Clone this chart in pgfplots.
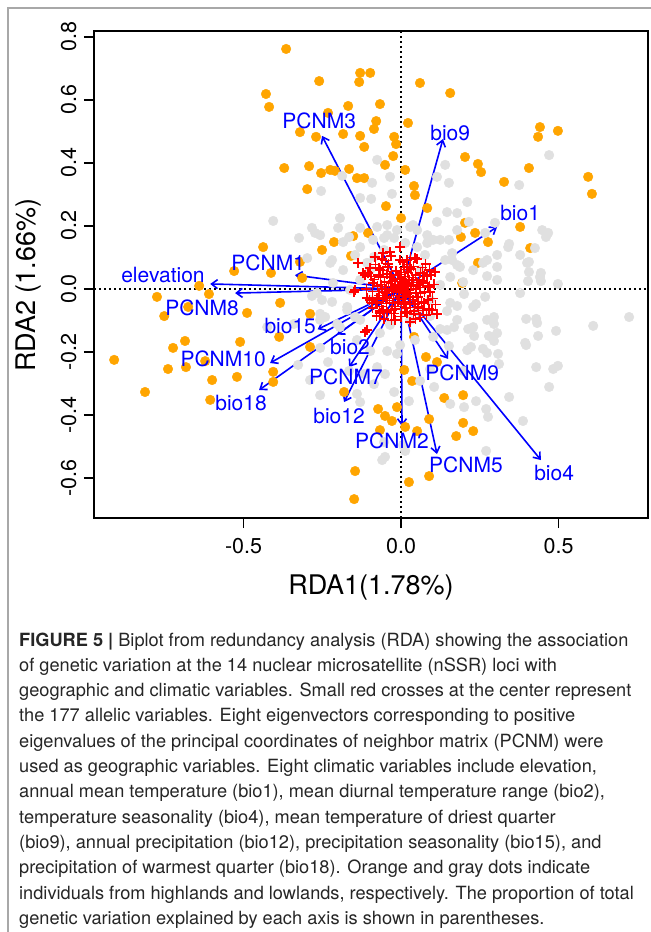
\documentclass[border=0pt]{standalone}
\usepackage{fontspec}
\setmainfont{TeX Gyre Heros}
\usepackage{pgfplots}
\pgfplotsset{compat=1.18}
\usetikzlibrary{arrows.meta}
\definecolor{rorange}{HTML}{FFA500}
\definecolor{rgray}{HTML}{E0E0E0}
\definecolor{framegray}{HTML}{A8A8A8}
\newcommand{\capfont}{\fontsize{18.2bp}{25.3bp}\selectfont}
\newcommand{\lblfont}{\fontsize{21bp}{25bp}\selectfont}
\begin{document}
\begin{tikzpicture}
\useasboundingbox (0,0) rectangle (651bp,-932bp);
\fill[white] (0,0) rectangle (651bp,-932bp);
\draw[framegray, line width=1.5bp] (8bp,-932bp) -- (8bp,-8bp) -- (651bp,-8bp);
\begin{axis}[
  at={(94bp,-518bp)}, anchor=south west,
  scale only axis, width=554bp, height=487bp,
  xmin=-0.975, xmax=0.784, ymin=-0.727, ymax=0.819,
  axis line style={line width=1.8bp},
  xtick={-0.5,0,0.5}, xticklabels={-0.5,0.0,0.5},
  ytick={-0.6,-0.4,-0.2,0,0.2,0.4,0.6,0.8},
  yticklabels={-0.6,-0.4,-0.2,0.0,0.2,0.4,0.6,0.8},
  xtick pos=bottom, ytick pos=left,
  tick align=outside, major tick length=10bp,
  major tick style={line width=1.5bp, black},
  tick label style={font=\fontsize{21.5bp}{25bp}\selectfont},
  yticklabel style={rotate=90, anchor=south},
  xticklabel shift=7bp, yticklabel shift=4bp,
  xlabel={RDA1(1.78\%)}, ylabel={RDA2 (1.66\%)},
  label style={font=\fontsize{27bp}{32bp}\selectfont},
  xlabel style={at={(axis description cs:0.5,-0.158)}, anchor=base},
  ylabel style={at={(axis description cs:-0.106,0.478)}, anchor=base},
]
% zero lines
\addplot[black, line width=1.4bp, dash pattern=on 2bp off 3bp] coordinates {(0,-0.727) (0,0.819)};
\addplot[black, line width=1.4bp, dash pattern=on 2bp off 3bp] coordinates {(-0.975,0) (0.784,0)};
% highland individuals (orange)
\addplot[only marks, mark=*, mark size=4.8bp, color=rorange] table {
x y
-0.365 0.762
-0.260 0.660
-0.429 0.619
-0.419 0.578
-0.232 0.559
-0.321 0.498
-0.270 0.483
-0.371 0.384
-0.292 0.390
-0.254 0.368
-0.225 0.378
-0.210 0.375
-0.298 0.317
-0.438 0.133
-0.251 0.124
-0.321 0.086
-0.530 0.057
-0.413 0.051
-0.314 0.035
-0.641 0.010
-0.610 -0.016
-0.775 -0.025
-0.130 0.686
-0.098 0.686
-0.133 0.657
0.060 0.654
0.156 0.622
-0.168 0.581
-0.067 0.587
-0.079 0.533
-0.086 0.508
0.022 0.527
-0.184 0.492
-0.130 0.486
-0.022 0.483
-0.016 0.460
-0.117 0.451
-0.025 0.422
-0.051 0.394
0.013 0.378
-0.165 0.381
-0.140 0.352
-0.117 0.352
0.041 0.327
0.044 0.298
-0.048 0.263
0.083 0.257
0.000 0.225
-0.105 0.178
-0.152 0.168
-0.213 0.149
-0.159 0.105
0.203 0.419
0.244 0.397
0.254 0.371
0.406 0.384
0.441 0.514
0.435 0.483
0.498 0.502
0.594 0.356
0.606 0.302
0.327 0.340
0.235 0.178
0.276 0.149
0.190 0.165
0.378 0.197
0.244 0.083
0.194 0.019
0.410 0.130
0.203 0.210
-0.752 -0.086
-0.676 -0.057
-0.489 -0.076
-0.686 -0.165
-0.724 -0.187
-0.511 -0.168
-0.911 -0.225
-0.740 -0.254
-0.683 -0.248
-0.622 -0.229
-0.600 -0.289
-0.521 -0.279
-0.813 -0.327
-0.606 -0.352
-0.406 -0.263
-0.406 -0.295
-0.384 -0.044
-0.289 -0.079
-0.387 -0.152
-0.289 -0.184
0.041 -0.152
0.079 -0.216
0.114 -0.232
0.010 -0.257
0.035 -0.292
0.137 -0.346
-0.181 -0.327
-0.073 -0.381
-0.051 -0.403
-0.029 -0.419
-0.013 -0.375
0.013 -0.438
0.051 -0.451
-0.067 -0.448
0.089 -0.413
-0.146 -0.578
-0.149 -0.667
0.025 -0.613
0.089 -0.594
0.197 -0.337
0.197 -0.425
0.229 -0.451
0.175 -0.467
};
% lowland individuals (gray)
\addplot[only marks, mark=*, mark size=4.8bp, color=rgray] table {
x y
-0.406 0.216
-0.283 0.194
-0.273 0.178
-0.324 0.162
-0.254 0.311
-0.076 0.410
-0.035 0.356
-0.092 0.337
-0.187 0.359
-0.029 0.302
-0.095 0.286
-0.130 0.289
-0.194 0.225
-0.165 0.165
-0.130 0.194
-0.076 0.197
-0.044 0.203
-0.013 0.187
-0.054 0.162
-0.022 0.162
0.013 0.146
0.051 0.133
0.083 0.146
0.114 0.213
0.146 0.244
0.152 0.337
0.140 0.394
0.114 0.356
0.152 0.156
0.178 0.187
0.029 0.197
-0.054 0.124
-0.086 0.102
-0.108 0.083
-0.225 0.083
-0.130 0.133
0.470 0.425
0.375 0.330
0.210 0.276
0.178 0.241
0.215 0.213
0.298 0.210
0.267 0.178
0.340 0.133
0.378 0.108
0.425 0.130
0.448 0.187
0.467 0.178
0.305 0.108
0.305 0.070
0.273 0.041
0.187 0.070
0.162 0.092
0.102 0.156
0.400 0.083
0.378 -0.013
0.441 0.038
0.498 0.016
0.038 0.203
0.343 0.143
0.406 0.086
0.260 0.083
0.406 0.054
0.444 0.051
0.460 0.165
-0.251 -0.035
-0.241 -0.089
-0.425 -0.121
-0.257 -0.187
-0.232 -0.232
-0.327 -0.241
-0.289 -0.289
-0.257 -0.337
-0.171 -0.057
-0.146 -0.089
-0.203 -0.111
-0.257 -0.079
-0.283 -0.022
-0.340 -0.111
-0.117 -0.270
-0.086 -0.302
-0.076 -0.248
-0.051 -0.270
-0.140 -0.333
-0.130 -0.359
-0.022 -0.327
-0.054 -0.486
-0.051 -0.533
0.013 -0.514
0.025 -0.356
0.060 -0.292
0.092 -0.254
0.152 -0.181
0.124 -0.127
0.092 -0.086
0.051 -0.070
0.146 -0.070
0.178 -0.054
0.168 -0.121
0.105 -0.311
0.156 -0.365
-0.044 -0.197
-0.013 -0.206
-0.098 -0.197
-0.165 -0.260
0.197 0.022
0.403 0.025
0.444 0.025
0.238 -0.048
0.200 -0.016
0.295 -0.089
0.295 -0.111
0.397 -0.095
0.429 -0.095
0.724 -0.089
0.610 -0.117
0.492 -0.133
0.435 -0.149
0.397 -0.178
0.213 -0.127
0.232 -0.149
0.279 -0.149
0.295 -0.165
0.222 -0.184
0.260 -0.190
0.308 -0.206
0.311 -0.238
0.429 -0.248
0.483 -0.254
0.498 -0.244
0.470 -0.311
0.343 -0.343
0.270 -0.381
0.387 -0.419
0.238 -0.356
0.200 -0.375
0.270 -0.514
0.197 -0.260
-0.060 -0.543
0.006 -0.495
0.394 -0.171
0.432 -0.108
0.276 -0.406
-0.257 0.171
-0.200 0.194
-0.184 0.149
-0.298 0.098
-0.219 0.092
-0.184 0.060
-0.216 0.019
-0.267 -0.013
-0.219 -0.041
-0.171 -0.067
-0.257 -0.098
-0.194 -0.121
-0.140 -0.162
-0.067 -0.140
0.124 0.156
0.162 0.114
0.178 0.076
0.156 0.038
0.229 0.060
0.273 0.092
0.305 0.029
0.267 -0.025
0.229 -0.057
0.156 -0.044
0.178 -0.098
0.229 -0.121
0.273 -0.098
0.305 -0.140
0.146 -0.130
0.102 -0.152
0.273 -0.203
0.210 -0.194
0.051 0.187
0.083 0.171
-0.089 0.156
-0.044 0.171
-0.130 0.029
-0.098 -0.035
0.060 0.060
0.092 -0.035
0.029 -0.098
-0.035 -0.114
-0.130 -0.098
0.044 -0.162
-0.003 -0.178
-0.098 0.060
-0.146 0.108
0.124 0.013
0.140 0.092
0.076 0.108
-0.162 -0.003
};
% allelic variables (red crosses)
\addplot[only marks, mark=+, mark size=5bp, color=red, mark options={line width=1.5bp}] table {
x y
-0.137 0.083
-0.098 0.067
-0.083 0.102
-0.057 0.114
-0.035 0.117
-0.003 0.133
-0.003 0.092
0.019 0.092
0.044 0.098
0.029 0.070
-0.121 0.051
-0.105 0.051
-0.067 0.060
-0.041 0.070
0.108 0.054
0.083 0.044
0.086 0.006
0.092 -0.010
0.098 -0.067
0.054 -0.057
-0.146 -0.003
-0.076 -0.029
-0.092 -0.044
-0.057 -0.067
-0.019 -0.098
-0.108 -0.130
-0.067 -0.076
0.019 -0.076
-0.044 -0.025
0.051 -0.025
0.070 0.019
0.038 0.029
-0.089 0.019
-0.108 -0.029
-0.149 -0.010
-0.114 -0.137
0.089 -0.063
0.114 -0.079
0.000 0.000
0.010 0.005
-0.010 0.008
0.005 -0.012
-0.008 -0.006
0.020 0.015
-0.020 0.012
0.018 -0.018
-0.015 -0.020
0.030 0.002
-0.030 -0.003
0.002 0.030
0.004 -0.032
0.025 0.028
-0.027 0.025
0.028 -0.026
-0.024 -0.030
0.040 0.010
-0.040 0.008
0.012 0.040
-0.010 -0.042
0.045 -0.012
-0.044 -0.015
0.008 -0.048
-0.006 0.046
0.036 0.036
-0.035 0.038
0.038 -0.034
-0.037 -0.036
0.050 0.020
-0.052 0.022
0.022 0.052
-0.020 -0.055
0.055 -0.025
-0.050 -0.028
0.015 -0.060
-0.016 0.058
0.060 0.005
-0.060 0.000
0.046 0.044
-0.045 0.047
0.044 -0.048
-0.047 -0.046
0.065 -0.040
-0.066 0.038
0.032 0.064
-0.030 -0.066
0.070 0.025
-0.070 -0.020
0.010 0.068
0.012 -0.072
0.062 0.050
-0.058 0.058
0.056 -0.060
-0.062 -0.055
0.075 -0.010
-0.075 0.010
0.020 0.078
-0.022 -0.078
0.080 0.040
-0.080 -0.045
0.040 -0.080
-0.040 0.080
0.085 -0.035
-0.085 0.030
0.005 0.085
0.000 -0.088
0.068 0.068
-0.068 -0.070
0.070 -0.068
-0.070 0.066
0.090 0.010
-0.090 -0.008
0.015 0.020
-0.018 0.003
0.003 0.018
0.022 -0.005
-0.005 -0.024
0.033 0.020
-0.032 0.018
0.026 -0.040
-0.028 -0.045
0.014 0.028
-0.012 0.032
0.048 0.000
-0.048 0.000
0.000 0.052
0.001 -0.056
0.058 0.030
-0.057 -0.032
0.030 -0.058
-0.031 0.056
0.008 0.010
-0.004 0.015
0.016 -0.008
-0.014 -0.010
0.024 0.008
-0.024 -0.006
0.006 0.024
0.010 -0.020
0.095 0.045
-0.095 0.040
0.100 -0.030
-0.100 -0.035
0.050 0.095
-0.050 0.090
0.045 -0.095
-0.055 -0.095
0.078 0.080
-0.082 0.078
0.080 -0.082
-0.078 -0.085
0.105 0.015
-0.110 0.000
0.030 0.100
-0.032 0.105
0.028 -0.105
-0.030 -0.100
0.060 -0.090
-0.060 0.095
0.090 0.060
-0.090 -0.060
0.110 -0.050
-0.115 0.045
0.072 0.040
-0.072 0.045
0.072 -0.045
-0.076 -0.040
0.040 0.072
-0.042 0.070
0.042 -0.070
-0.045 -0.073
0.052 0.012
-0.052 -0.010
0.012 -0.042
-0.012 0.044
0.062 -0.012
-0.064 0.014
0.018 0.062
-0.020 -0.064
};
% biplot arrows
\tikzset{bip/.style={blue, line width=1.6bp, -{Straight Barb[length=6bp,width=9bp,line width=1.6bp]}}}
\addplot[bip] coordinates {(0,0) (-0.251,0.486)};
\addplot[bip] coordinates {(0,0) (0.133,0.476)};
\addplot[bip] coordinates {(0,0) (0.305,0.197)};
\addplot[bip] coordinates {(0,0) (-0.606,0.016)};
\addplot[bip] coordinates {(0,0) (-0.527,-0.013)};
\addplot[bip] coordinates {(0,0) (-0.337,0.044)};
\addplot[bip] coordinates {(0,0) (-0.265,-0.128)};
\addplot[bip] coordinates {(0,0) (-0.416,-0.235)};
\addplot[bip] coordinates {(0,0) (-0.451,-0.321)};
\addplot[bip] coordinates {(0,0) (-0.203,-0.145)};
\addplot[bip] coordinates {(0,0) (-0.165,-0.248)};
\addplot[bip] coordinates {(0,0) (-0.181,-0.359)};
\addplot[bip] coordinates {(0,0) (0.003,-0.435)};
\addplot[bip] coordinates {(0,0) (0.114,-0.524)};
\addplot[bip] coordinates {(0,0) (0.149,-0.222)};
\addplot[bip] coordinates {(0,0) (0.444,-0.543)};
% arrow labels, drawn on top
\addplot[draw=none, mark=none, nodes near coords, point meta=explicit symbolic,
  every node near coord/.style={anchor=center, text=blue, font=\lblfont, inner sep=0pt}]
  table[meta=lab] {
x y lab
-0.260 0.533 PCNM3
0.156 0.495 bio9
0.378 0.241 bio1
-0.756 0.044 elevation
-0.632 -0.060 PCNM8
-0.422 0.083 PCNM1
-0.352 -0.117 bio15
-0.565 -0.222 PCNM10
-0.508 -0.362 bio18
-0.162 -0.184 bio2
-0.175 -0.279 PCNM7
-0.197 -0.403 bio12
-0.029 -0.483 PCNM2
0.206 -0.559 PCNM5
0.194 -0.267 PCNM9
0.486 -0.584 bio4
};
\end{axis}
% caption
\tikzset{capline/.style={anchor=base west, inner sep=0pt, font=\capfont, text=black!85}}
\node[capline] at (19bp,-646bp) {\textbf{FIGURE 5 |} Biplot from redundancy analysis (RDA) showing the association};
\node[capline] at (19bp,-671.3bp) {of genetic variation at the 14 nuclear microsatellite (nSSR) loci with};
\node[capline] at (19bp,-696.6bp) {geographic and climatic variables. Small red crosses at the center represent};
\node[capline] at (19bp,-721.9bp) {the 177 allelic variables. Eight eigenvectors corresponding to positive};
\node[capline] at (19bp,-747.2bp) {eigenvalues of the principal coordinates of neighbor matrix (PCNM) were};
\node[capline] at (19bp,-772.5bp) {used as geographic variables. Eight climatic variables include elevation,};
\node[capline] at (19bp,-797.8bp) {annual mean temperature (bio1), mean diurnal temperature range (bio2),};
\node[capline] at (19bp,-823.1bp) {temperature seasonality (bio4), mean temperature of driest quarter};
\node[capline] at (19bp,-848.4bp) {(bio9), annual precipitation (bio12), precipitation seasonality (bio15), and};
\node[capline] at (19bp,-873.7bp) {precipitation of warmest quarter (bio18). Orange and gray dots indicate};
\node[capline] at (19bp,-899.0bp) {individuals from highlands and lowlands, respectively. The proportion of total};
\node[capline] at (19bp,-924.3bp) {genetic variation explained by each axis is shown in parentheses.};
\end{tikzpicture}
\end{document}
